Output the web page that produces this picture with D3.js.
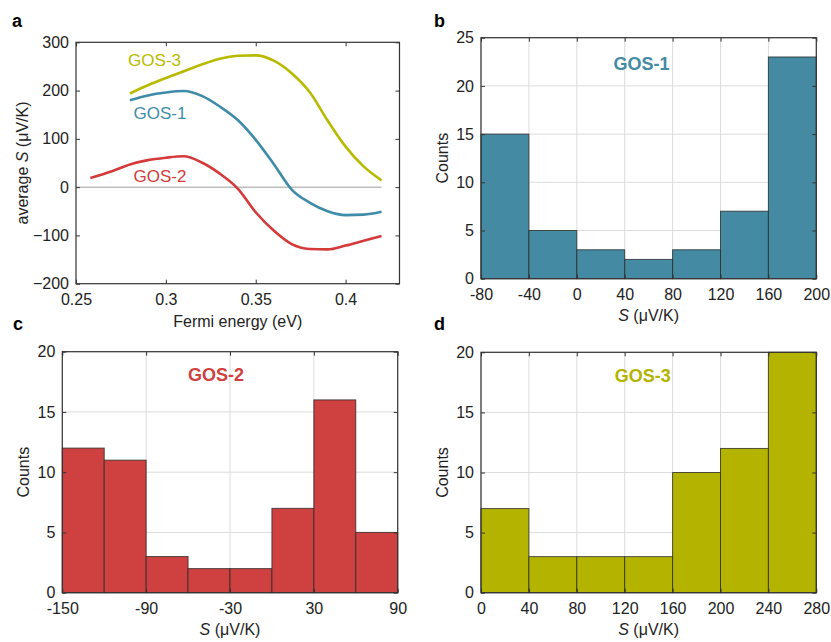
<!DOCTYPE html>
<html>
<head>
<meta charset="utf-8">
<script src="https://cdn.jsdelivr.net/npm/d3@7"></script>
<style>
  body { margin: 0; background: #fff; }
  svg { font-family: Arial, "Liberation Sans", sans-serif; }
</style>
</head>
<body>
<svg width="831" height="642"></svg>
<script>
// panel a: average S vs Fermi energy
const energy12 = [0.28, 0.29, 0.30, 0.31, 0.32, 0.33, 0.34, 0.35, 0.36, 0.37, 0.38, 0.39, 0.40, 0.41, 0.42];
const gos1S = [180, 190, 196, 199, 189, 167, 139, 98, 48, -5, -32, -50, -58, -57, -51];
const gos3S = [194, 211, 226, 240, 254, 266, 272, 273, 262, 236, 197, 138, 84, 43, 14];
const energy2 = [0.258, 0.27, 0.28, 0.29, 0.30, 0.31, 0.32, 0.33, 0.34, 0.35, 0.36, 0.37, 0.38, 0.39, 0.40, 0.41, 0.42];
const gos2S = [19, 33, 47, 56, 61, 64, 51, 28, -3, -52, -90, -118, -128, -129, -121, -111, -101];
const energyTicks = [0.25, 0.3, 0.35, 0.4];
const sTicks = [-200, -100, 0, 100, 200, 300];

// histograms (bin edges + counts)
const edges1 = [-80, -40, 0, 40, 80, 120, 160, 200];
const counts1 = [15, 5, 3, 2, 3, 7, 23];
const edges2 = [-150, -120, -90, -60, -30, 0, 30, 60, 90];
const counts2 = [12, 11, 3, 2, 2, 7, 16, 5];
const ticks2 = [-150, -90, -30, 30, 90];
const edges3 = [0, 40, 80, 120, 160, 200, 240, 280];
const counts3 = [7, 3, 3, 3, 10, 12, 20];

const teal = "#438aa2", red = "#cf4040", olive = "#b4b400";
const lineTeal = "#3f8ca8", lineRed = "#d43a3a", lineOlive = "#b8ba00";

const svg = d3.select("svg");

function gridLines(g, x, y, xt, yt, box) {
    g.append("g").selectAll("line").data(xt).join("line")
        .attr("x1", d => x(d)).attr("x2", d => x(d))
        .attr("y1", box.top).attr("y2", box.bottom)
        .attr("stroke", "#dcdcdc").attr("stroke-width", 1);
    g.append("g").selectAll("line").data(yt).join("line")
        .attr("y1", d => y(d)).attr("y2", d => y(d))
        .attr("x1", box.left).attr("x2", box.right)
        .attr("stroke", "#dcdcdc").attr("stroke-width", 1);
}

function frame(g, x, y, xt, yt, box, fmt) {
    g.append("g").attr("transform", `translate(0,${box.bottom})`)
        .call(d3.axisBottom(x).tickValues(xt).tickSize(-4).tickPadding(10).tickFormat(fmt));
    g.append("g").attr("transform", `translate(${box.left},0)`)
        .call(d3.axisLeft(y).tickValues(yt).tickSize(-4).tickPadding(7));
    g.append("g").attr("transform", `translate(0,${box.top})`)
        .call(d3.axisTop(x).tickValues(xt).tickSize(-4).tickFormat(""));
    g.append("g").attr("transform", `translate(${box.right},0)`)
        .call(d3.axisRight(y).tickValues(yt).tickSize(-4).tickFormat(""));
    g.selectAll(".domain").remove();
    g.selectAll(".tick line").attr("stroke", "#333");
    g.selectAll(".tick text").attr("fill", "#222").attr("font-size", 16);
    g.append("rect")
        .attr("x", box.left).attr("y", box.top)
        .attr("width", box.right - box.left).attr("height", box.bottom - box.top)
        .attr("fill", "none").attr("stroke", "#333").attr("stroke-width", 1.2);
}

function sLabel(g, cx, cy) {
    const t = g.append("text").attr("x", cx).attr("y", cy)
        .attr("text-anchor", "middle").attr("font-size", 16).attr("fill", "#222");
    t.append("tspan").attr("font-style", "italic").text("S");
    t.append("tspan").text(" (μV/K)");
}

function countsLabel(g, cx, cy) {
    g.append("text").attr("transform", `translate(${cx},${cy}) rotate(-90)`)
        .attr("text-anchor", "middle").attr("font-size", 16).attr("fill", "#222")
        .text("Counts");
}

function panelLetter(x, y, s) {
    svg.append("text").attr("x", x).attr("y", y)
        .attr("font-size", 18).attr("font-weight", "bold").attr("fill", "#000").text(s);
}

// ---- panel a ----
{
    const box = {left: 76, right: 399.5, top: 42.3, bottom: 283.7};
    const x = d3.scaleLinear().domain([0.25, 0.43]).range([box.left, box.right]);
    const y = d3.scaleLinear().domain([-200, 300]).range([box.bottom, box.top]);
    const g = svg.append("g");

    g.append("line")
        .attr("x1", x(0.25)).attr("x2", x(0.42))
        .attr("y1", y(0)).attr("y2", y(0))
        .attr("stroke", "#bdbdbd").attr("stroke-width", 1.5);

    const line = d3.line().curve(d3.curveMonotoneX).x(d => x(d[0])).y(d => y(d[1]));
    const series = [
        {e: energy12, s: gos3S, c: lineOlive, name: "GOS-3", lx: 0.279, ly: 251},
        {e: energy12, s: gos1S, c: lineTeal, name: "GOS-1", lx: 0.282, ly: 141},
        {e: energy2, s: gos2S, c: lineRed, name: "GOS-2", lx: 0.282, ly: 11}
    ];
    series.forEach(sr => {
        g.append("path")
            .attr("d", line(d3.zip(sr.e, sr.s)))
            .attr("fill", "none").attr("stroke", sr.c).attr("stroke-width", 2.6)
            .attr("stroke-linejoin", "round");
        g.append("text").attr("x", x(sr.lx)).attr("y", y(sr.ly))
            .attr("font-size", 17).attr("fill", sr.c).text(sr.name);
    });

    frame(g, x, y, energyTicks, sTicks, box, d => String(d));

    const yl = g.append("text").attr("transform", `translate(28,163) rotate(-90)`)
        .attr("text-anchor", "middle").attr("font-size", 16).attr("fill", "#222");
    yl.append("tspan").text("average ");
    yl.append("tspan").attr("font-style", "italic").text("S");
    yl.append("tspan").text(" (μV/K)");

    g.append("text").attr("x", (box.left + box.right) / 2).attr("y", 327)
        .attr("text-anchor", "middle").attr("font-size", 16).attr("fill", "#222")
        .text("Fermi energy (eV)");
    panelLetter(12, 27, "a");
}

function histogram(box, edges, counts, xt, yMax, color, name, lx, ly, letter, letterPos) {
    const x = d3.scaleLinear().domain([edges[0], edges[edges.length - 1]]).range([box.left, box.right]);
    const y = d3.scaleLinear().domain([0, yMax]).range([box.bottom, box.top]);
    const yt = d3.range(0, yMax + 1, 5);
    const g = svg.append("g");

    gridLines(g, x, y, xt, yt, box);

    g.append("g").selectAll("rect")
        .data(counts.map((c, i) => ({x0: edges[i], x1: edges[i + 1], c})))
        .join("rect")
        .attr("x", d => x(d.x0)).attr("width", d => x(d.x1) - x(d.x0))
        .attr("y", d => y(d.c)).attr("height", d => y(0) - y(d.c))
        .attr("fill", color).attr("stroke", "#2b2b2b").attr("stroke-opacity", 0.8)
        .attr("stroke-width", 1);

    frame(g, x, y, xt, yt, box, d => String(d));

    g.append("text").attr("x", x(lx)).attr("y", y(ly))
        .attr("text-anchor", "middle").attr("font-size", 18).attr("font-weight", "bold")
        .attr("fill", color).text(name);

    countsLabel(g, box.left - 33, (box.top + box.bottom) / 2);
    sLabel(g, (box.left + box.right) / 2, box.bottom + 42);
    panelLetter(letterPos[0], letterPos[1], letter);
}

histogram({left: 481, right: 816.3, top: 37.7, bottom: 278.7},
    edges1, counts1, edges1, 25, teal, "GOS-1", 54, 21.6, "b", [434, 27]);
histogram({left: 62.3, right: 397.7, top: 351.7, bottom: 592.7},
    edges2, counts2, ticks2, 20, red, "GOS-2", -40, 17.6, "c", [13, 330]);
histogram({left: 481, right: 816.3, top: 352.3, bottom: 592.7},
    edges3, counts3, edges3, 20, olive, "GOS-3", 135, 17.5, "d", [434, 330]);
</script>
</body>
</html>
